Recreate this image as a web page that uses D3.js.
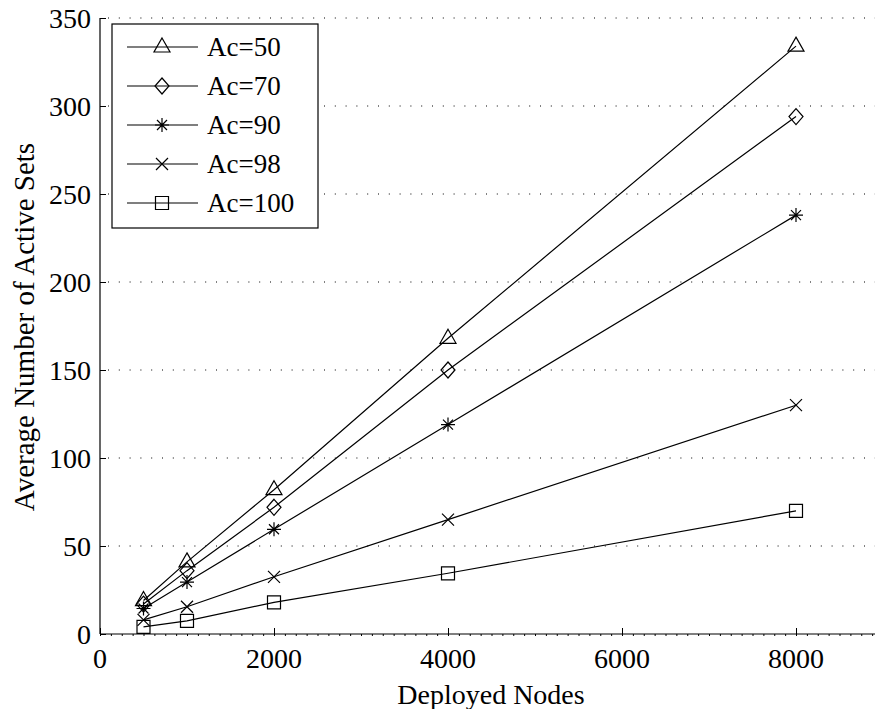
<html>
<head>
<meta charset="utf-8">
<script src="https://d3js.org/d3.v7.min.js"></script>
<style>
body { margin: 0; background: #fff; }
text { font-family: "Liberation Serif", "DejaVu Serif", serif; fill: #000; }
</style>
</head>
<body>
<svg width="875" height="709"></svg>
<script>
var nodes = [500, 1000, 2000, 4000, 8000];
var seriesNames = ["Ac=50", "Ac=70", "Ac=90", "Ac=98", "Ac=100"];
var ac50 = [19, 41, 82, 168, 334];
var ac70 = [17, 36, 72, 150, 294];
var ac90 = [14.5, 29.5, 59.5, 119, 238];
var ac98 = [8, 15.5, 32.5, 65, 130];
var ac100 = [4, 7.5, 18, 34.5, 70];
var xTicks = [0, 2000, 4000, 6000, 8000];
var yTicks = [0, 50, 100, 150, 200, 250, 300, 350];
var markers = ["triangle", "diamond", "star", "cross", "square"];

var allSeries = [ac50, ac70, ac90, ac98, ac100];

var svg = d3.select("svg");
var x = d3.scaleLinear().domain([0, 9000]).range([100, 883]);
var y = d3.scaleLinear().domain([0, 350]).range([634, 18]);

// dotted grid
svg.selectAll(".grid").data(yTicks.slice(1)).enter().append("line")
  .attr("x1", 108).attr("x2", 875)
  .attr("y1", function(d){ return y(d); }).attr("y2", function(d){ return y(d); })
  .style("stroke", "#000").style("stroke-width", 1)
  .style("stroke-dasharray", "1,9.8");

// axes
var gx = svg.append("g").attr("transform", "translate(0," + y(0) + ")")
  .call(d3.axisBottom(x).tickValues(d3.range(0, 9001, 125)).tickSize(2).tickFormat(""));
gx.select(".domain").remove();
svg.append("g").attr("transform", "translate(0," + y(0) + ")")
  .call(d3.axisTop(x).tickValues(xTicks).tickSize(6).tickFormat(""))
  .select(".domain").remove();
svg.selectAll(".xlab").data(xTicks).enter().append("text")
  .attr("x", function(d){ return x(d); }).attr("y", 668)
  .attr("text-anchor", "middle").style("font-size", "28px")
  .text(function(d){ return d; });

svg.append("g").attr("transform", "translate(100,0)")
  .call(d3.axisRight(y).tickValues(yTicks).tickSize(6).tickFormat(""))
  .select(".domain").remove();
svg.selectAll(".ylab").data(yTicks).enter().append("text")
  .attr("x", 91).attr("y", function(d){ return y(d) + 10; })
  .attr("text-anchor", "end").style("font-size", "28px")
  .text(function(d){ return d; });

svg.append("line").attr("x1", 100).attr("x2", 875).attr("y1", y(0)).attr("y2", y(0))
  .style("stroke", "#000").style("stroke-width", 1.2);
svg.append("line").attr("x1", 100).attr("x2", 100).attr("y1", y(0)).attr("y2", y(350))
  .style("stroke", "#000").style("stroke-width", 1.2);

svg.append("text").attr("x", 491).attr("y", 704).attr("text-anchor", "middle")
  .style("font-size", "28px").text("Deployed Nodes");
svg.append("text").attr("transform", "translate(34,327) rotate(-90)").attr("text-anchor", "middle")
  .style("font-size", "29px").text("Average Number of Active Sets");

function drawMarker(g, type) {
  var p = g.append("path").style("fill", "none").style("stroke", "#000").style("stroke-width", 1.2);
  if (type == "triangle") p.attr("d", "M0,-9L8,5L-8,5Z");
  else if (type == "diamond") p.attr("d", "M0,-8L7,0L0,8L-7,0Z");
  else if (type == "square") p.attr("d", "M-6.5,-6.5H6.5V6.5H-6.5Z");
  else if (type == "cross") p.attr("d", "M-6,-6L6,6M-6,6L6,-6");
  else if (type == "star") p.attr("d", "M-7,0H7M0,-7V7M-5,-5L5,5M-5,5L5,-5");
}

var line = d3.line().x(function(d, i){ return x(nodes[i]); }).y(function(d){ return y(d); });

allSeries.forEach(function(vals, k) {
  svg.append("path").datum(vals).attr("d", line)
    .style("fill", "none").style("stroke", "#000").style("stroke-width", 1.2);
  vals.forEach(function(v, i) {
    var g = svg.append("g").attr("transform", "translate(" + x(nodes[i]) + "," + y(v) + ")");
    drawMarker(g, markers[k]);
  });
});

// legend
var lg = svg.append("g");
lg.append("rect").attr("x", 112).attr("y", 24).attr("width", 206).attr("height", 204)
  .style("fill", "#fff").style("stroke", "#000").style("stroke-width", 1.2);
seriesNames.forEach(function(name, k) {
  var ly = 47 + k * 39;
  lg.append("line").attr("x1", 127).attr("x2", 198).attr("y1", ly).attr("y2", ly)
    .style("stroke", "#000").style("stroke-width", 1.2);
  drawMarker(lg.append("g").attr("transform", "translate(162," + ly + ")"), markers[k]);
  lg.append("text").attr("x", 207).attr("y", ly + 9).style("font-size", "27px").text(name);
});
</script>
</body>
</html>
